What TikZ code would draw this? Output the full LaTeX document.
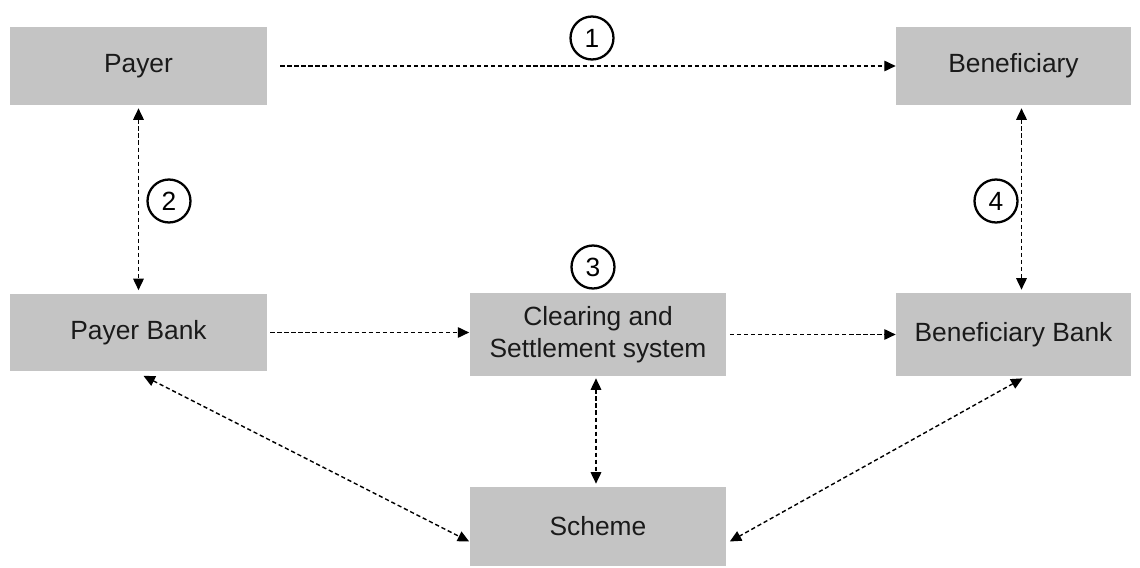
\documentclass[tikz,border=0pt]{standalone}
\usepackage{fontspec}
\setmainfont{Liberation Sans}
\usetikzlibrary{arrows.meta,positioning,calc}
\definecolor{boxgray}{HTML}{C4C4C4}
\definecolor{textgray}{HTML}{1A1A1A}
\tikzset{
  box/.style={fill=boxgray, draw=none, align=center, minimum width=5.14cm, minimum height=1.56cm,
              font=\fontsize{15}{18.2}\selectfont, text=textgray, inner sep=2pt},
  narrowbox/.style={box, minimum width=4.7cm},
  num/.style={circle, draw, line width=1.3pt, minimum size=0.86cm, inner sep=0pt,
              font=\fontsize{15}{17}\selectfont},
  arr/.style={-{Triangle[length=6.5pt, width=6pt]}, line width=0.8pt, dash pattern=on 2.4pt off 1.6pt},
  darr/.style={arr, {Triangle[length=6.5pt, width=6pt]}-{Triangle[length=6.5pt, width=6pt]}},
}

\begin{document}
\begin{tikzpicture}[x=0.02cm, y=-0.02cm]
    \useasboundingbox (0,0) rectangle (1140,568);
    \node[box] (payer) at (138.5,66) {Payer};
    \node[narrowbox] (ben) at (1013.5,66) {Beneficiary};
    \node[box] (pbank) at (138.5,332.5) {Payer Bank};
    \node[box, minimum height=1.66cm] (clear) at (598,334.5) {Clearing and\\Settlement system};
    \node[narrowbox, minimum height=1.66cm] (bbank) at (1013.5,334.5) {Beneficiary Bank};
    \node[box, minimum height=1.58cm] (scheme) at (598,526.5) {Scheme};
    \node[num] (c1) at (592,38) {1};
    \node[num] (c2) at (169,201) {2};
    \node[num] (c3) at (593,267) {3};
    \node[num] (c4) at (996,201) {4};
    \draw[arr, shorten <=0.26cm] (payer.east) -- (ben.west|-payer.east);
    \draw[darr] ($(payer.south)+(0,3)$) -- ($(pbank.north)+(0,-3)$);
    \draw[darr] ($(ben.south)+(8,3)$) -- ($(bbank.north)+(8,-3)$);
    \draw[arr] ($(pbank.east)+(3,0)$) -- (clear.west|-pbank.east);
    \draw[arr] ($(clear.east)+(3,0)$) -- (bbank.west|-clear.east);
    \draw[darr] ($(clear.south)+(-2,2)$) -- ($(scheme.north)+(-2,-3)$);
    \draw[darr] ($(pbank.south)+(5,4)$) -- ($(scheme.west)+(0,15)$);
    \draw[darr] ($(bbank.south)+(9,2)$) -- ($(scheme.east)+(3,15)$);
\end{tikzpicture}
\end{document}
